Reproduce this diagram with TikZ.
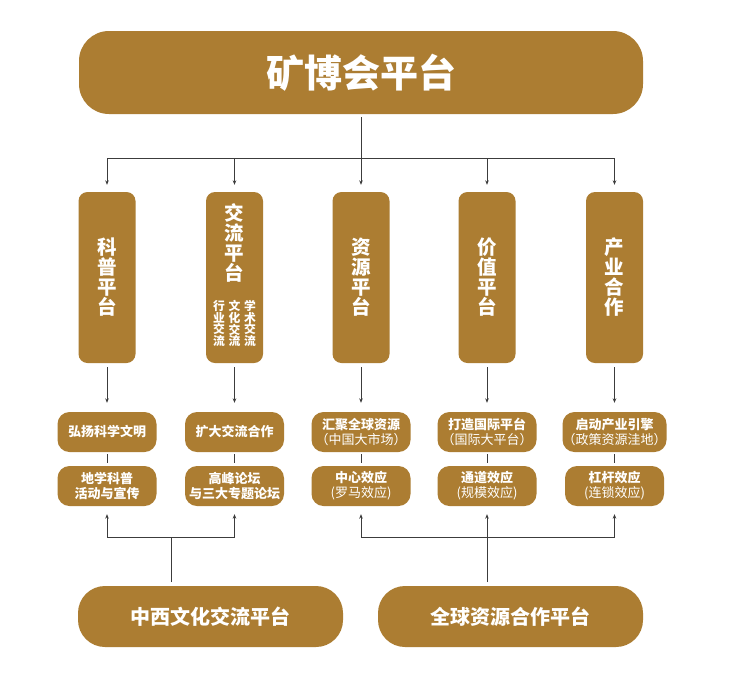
\documentclass[tikz,border=0pt]{standalone}
\usepackage{fontspec}
\setmainfont{Noto Sans CJK SC}
\usetikzlibrary{arrows.meta}
\definecolor{gold}{RGB}{172,125,50}
\definecolor{ln}{RGB}{60,60,60}
\begin{document}
\begin{tikzpicture}[x=1pt,y=-1pt,
  box/.style={fill=gold, text=white, inner sep=0pt, draw=none, align=center},
  vbox/.style={box, rounded corners=9pt, minimum width=57pt, minimum height=171pt,
    font=\fontsize{19.5}{20}\selectfont\bfseries},
  sbox/.style={box, rounded corners=12pt, minimum width=99pt, minimum height=40pt,
    font=\fontsize{13}{15}\selectfont},
  bbox/.style={box, rounded corners=27pt, minimum width=265pt, minimum height=61pt,
    font=\fontsize{20}{22}\selectfont\bfseries},
  vtxt/.style={text=white, inner sep=0pt, align=center},
  conn/.style={draw=ln, line width=0.9pt},
  arr/.style={conn, -{Stealth[length=4.5pt,width=3.6pt]}},
]
\useasboundingbox (0,0) rectangle (741,689);
\fill[white] (0,0) rectangle (741,689);

% top
\node[box, rounded corners=30pt, minimum width=564pt, minimum height=83pt,
  font=\fontsize{38}{40}\selectfont\bfseries] (top) at (361,72.5) {矿博会平台};

% vertical platforms
\node[vbox] (p1) at (107,277.5) {科\\普\\平\\台};
\node[vbox] (p2) at (234.5,277.5) {};
\node[vtxt, font=\fontsize{19.5}{20}\selectfont\bfseries] (p2t) at (234.5,243) {交\\流\\平\\台};
\node[vtxt, font=\fontsize{11.8}{11.8}\selectfont\bfseries] (p2a) at (219,323.5) {行\\业\\交\\流};
\node[vtxt, font=\fontsize{11.8}{11.8}\selectfont\bfseries] (p2b) at (234.5,323.5) {文\\化\\交\\流};
\node[vtxt, font=\fontsize{11.8}{11.8}\selectfont\bfseries] (p2c) at (250,323.5) {学\\术\\交\\流};
\node[vbox] (p3) at (361,277.5) {资\\源\\平\\台};
\node[vbox] (p4) at (487,277.5) {价\\值\\平\\台};
\node[vbox] (p5) at (614.5,277.5) {产\\业\\合\\作};

% row 1
\node[sbox] (a1) at (107,432) {\textbf{弘扬科学文明}};
\node[sbox] (a2) at (234.5,432) {\textbf{扩大交流合作}};
\node[sbox] (a3) at (361,432) {\textbf{汇聚全球资源}\\（中国大市场）};
\node[sbox] (a4) at (487,432) {\textbf{打造国际平台}\\（国际大平台）};
\node[sbox] (a5) at (614.5,432) {\textbf{启动产业引擎}\\（政策资源洼地）};

% row 2
\node[sbox] (b1) at (107,486) {\textbf{地学科普}\\\textbf{活动与宣传}};
\node[sbox] (b2) at (234.5,486) {\textbf{高峰论坛}\\\textbf{与三大专题论坛}};
\node[sbox] (b3) at (361,486) {\textbf{中心效应}\\(罗马效应)};
\node[sbox] (b4) at (487,486) {\textbf{通道效应}\\(规模效应)};
\node[sbox] (b5) at (614.5,486) {\textbf{杠杆效应}\\(连锁效应)};

% bottom
\node[bbox] (c1) at (210.5,616.5) {中西文化交流平台};
\node[bbox] (c2) at (510.5,616.5) {全球资源合作平台};

% top connectors
\coordinate (hub) at (361,158);
\draw[arr] ([yshift=-3pt]top.south) -- ([yshift=7pt]p3.north);
\draw[conn] (p1.north |- hub) -- (p5.north |- hub);
\foreach \p in {p1,p2,p4,p5}{
  \draw[arr] (\p.north |- hub) -- ([yshift=7pt]\p.north);
}

% platform -> row 1, row 1 -- row 2
\foreach \i in {1,...,5}{
  \draw[arr] ([yshift=-4pt]p\i.south) -- ([yshift=9pt]a\i.north);
  \draw[conn] ([yshift=-2pt]a\i.south) -- ([yshift=3pt]b\i.north);
}

% bottom left bracket
\coordinate (j1) at (171,537);
\coordinate (s1) at (171,582);
\draw[conn] (s1) -- (j1);
\draw[conn] (b1.south |- j1) -- (b2.south |- j1);
\draw[arr] (b1.south |- j1) -- ([yshift=-8pt]b1.south);
\draw[arr] (b2.south |- j1) -- ([yshift=-8pt]b2.south);

% bottom right bracket
\coordinate (j2) at (487,537);
\coordinate (s2) at (487,582);
\draw[conn] (b3.south |- j2) -- (b5.south |- j2);
\draw[arr] (b3.south |- j2) -- ([yshift=-8pt]b3.south);
\draw[arr] (s2) -- ([yshift=-8pt]b4.south);
\draw[arr] (b5.south |- j2) -- ([yshift=-8pt]b5.south);
\end{tikzpicture}
\end{document}
